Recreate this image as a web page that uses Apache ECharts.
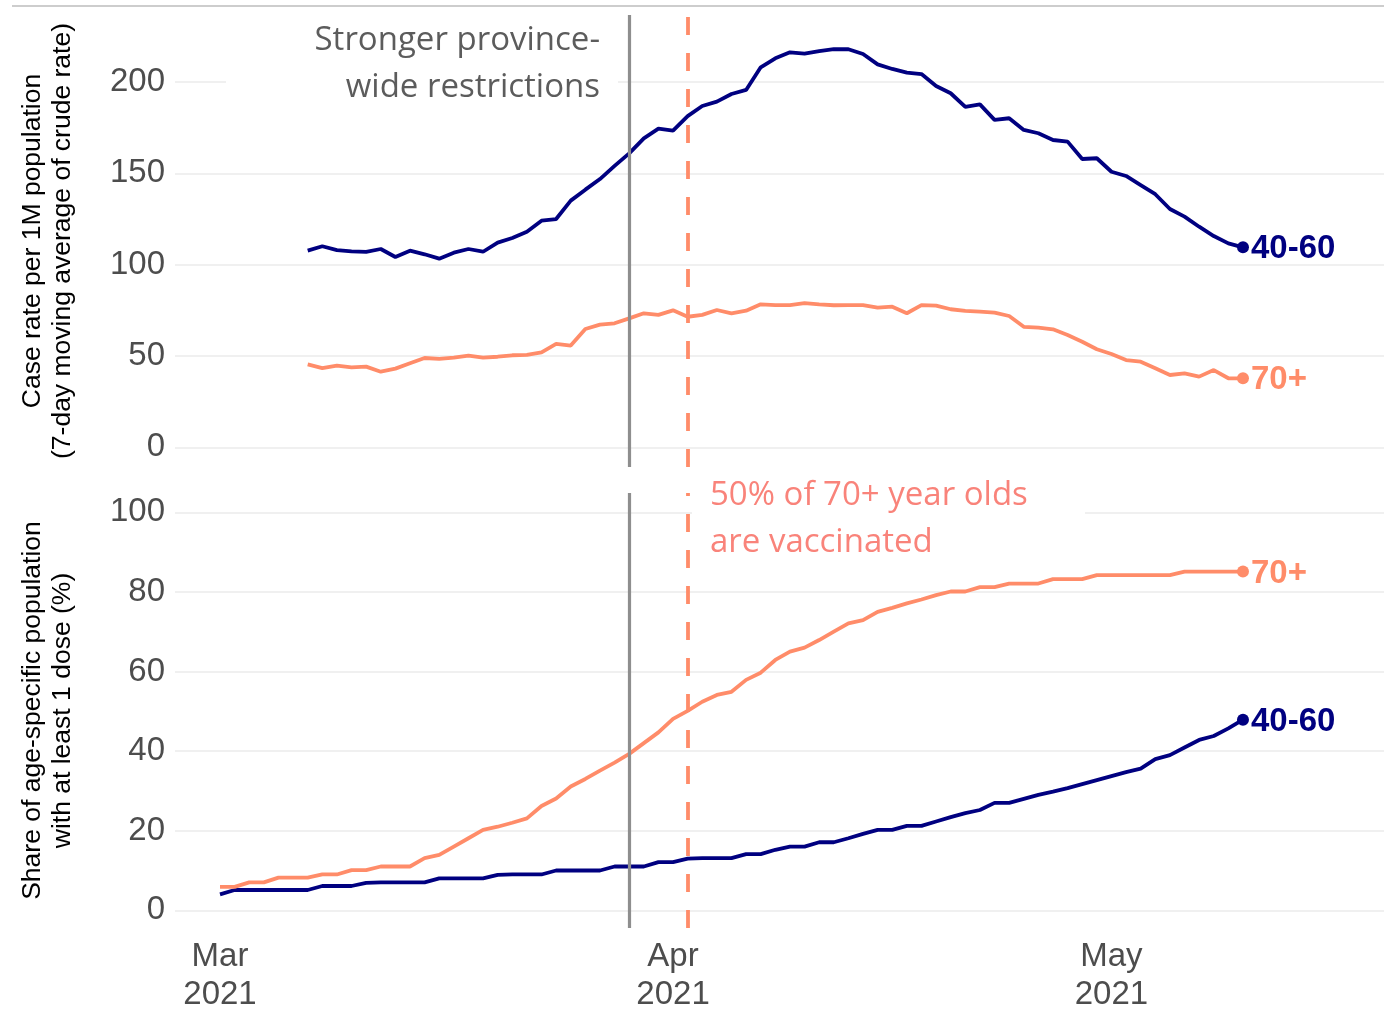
<!DOCTYPE html>
<html><head><meta charset="utf-8">
<script src="https://cdn.jsdelivr.net/npm/echarts@6/dist/echarts.min.js"></script>
<style>html,body{margin:0;padding:0;background:#fff}#c{width:1384px;height:1009px}</style>
</head><body><div id="c"></div>
<script>
// ---------- data ----------
const seriesNames = ['40-60', '70+'];
const caseStart = '2021-03-07';
const case4060 = [107.7,110.1,108.0,107.3,107.0,108.6,104.2,107.7,105.7,103.3,
  106.6,108.6,107.1,112.1,114.6,118.1,124.1,125.0,135.1,141.1,
  146.9,154.1,161.0,169.2,174.5,173.4,181.4,186.9,189.3,193.5,
  195.7,208.1,213.0,216.3,215.6,217.0,218.1,218.0,215.4,209.7,
  207.2,205.2,204.4,197.9,193.9,186.4,187.8,179.3,180.2,173.8,
  172.0,168.3,167.4,157.9,158.3,150.9,148.6,143.6,138.6,130.5,
  126.3,120.8,115.7,111.7,109.5];
const case70 = [45.4,43.4,44.7,43.8,44.2,41.4,43.1,46.0,48.9,48.4,
  49.1,50.2,49.1,49.6,50.4,50.6,52.0,56.6,55.7,64.8,
  67.2,67.9,70.6,73.4,72.5,75.0,71.5,72.5,75.2,73.4,
  74.8,78.3,77.9,77.9,78.9,78.3,77.8,77.9,77.9,76.5,
  77.0,73.4,77.9,77.6,75.6,74.7,74.3,73.7,71.9,66.0,
  65.5,64.6,61.5,57.8,53.7,51.1,47.8,46.9,43.3,39.6,
  40.5,38.7,42.3,37.8,37.8];
const vaxStart = '2021-03-01';
const vax4060 = [4.0,5.1,5.1,5.1,5.1,5.1,5.1,6.1,6.1,6.1,
  6.9,7.0,7.0,7.0,7.0,8.0,8.0,8.0,8.0,8.9,
  9.0,9.0,9.0,10.0,10.0,10.0,10.0,11.0,11.0,11.0,
  12.1,12.1,13.0,13.1,13.1,13.1,14.1,14.1,15.2,16.0,
  16.0,17.1,17.1,18.1,19.2,20.2,20.2,21.2,21.2,22.3,
  23.4,24.4,25.2,27.0,27.0,28.0,29.0,29.8,30.7,31.7,
  32.7,33.7,34.7,35.6,38.0,39.0,40.9,42.8,43.8,45.7,
  47.9];
const vax70 = [5.9,5.9,7.0,7.0,8.2,8.2,8.2,9.0,9.0,10.1,
  10.1,11.0,11.0,11.0,13.1,13.9,16.0,18.1,20.2,21.0,
  22.0,23.1,26.2,28.1,31.1,33.0,35.1,37.1,39.3,42.0,
  44.7,48.1,50.1,52.4,54.1,54.9,57.9,59.7,62.9,65.0,
  66.0,67.9,70.0,72.1,72.9,75.0,76.0,77.1,78.1,79.2,
  80.1,80.1,81.2,81.2,82.1,82.1,82.1,83.2,83.2,83.2,
  84.2,84.2,84.2,84.2,84.2,84.2,85.1,85.1,85.1,85.1,
  85.1];
const xTickDates = ['2021-03-01', '2021-04-01', '2021-05-01'];
const xTickLabels = ['Mar\n2021', 'Apr\n2021', 'May\n2021'];
const caseTicks = [0, 50, 100, 150, 200];
const vaxTicks = [0, 20, 40, 60, 80, 100];
const eventDates = ['2021-03-29', '2021-04-02'];
const annotations = ['Stronger province-\nwide restrictions', '50% of 70+ year olds\nare vaccinated'];
const yTitles = ['Case rate per 1M population\n(7-day moving average of crude rate)',
                 'Share of age-specific population\nwith at least 1 dose (%)'];

// ---------- helpers ----------
const DAY = 86400000;
const BASE = Date.UTC(2021, 2, 1);
function dayOf(s) { const p = s.split('-').map(Number); return (Date.UTC(p[0], p[1] - 1, p[2]) - BASE) / DAY; }
const NAVY = '#000080', SALMON = '#FF8C69', GRAYV = '#8e8e8e';
const LBL = 'Liberation Sans, Arial, sans-serif';

function buildData(values, start, name, color) {
  const s = dayOf(start);
  return values.map((v, i) => {
    if (i < values.length - 1) return [s + i, v];
    return { value: [s + i, v], symbol: 'circle', symbolSize: 12,
      label: { show: true, position: 'right', distance: 2, offset: [0, 2], formatter: name,
        color: color, fontSize: 33, fontWeight: 'bold', fontFamily: LBL } };
  });
}
function lineSeries(values, start, name, color, xi, withMarks) {
  const s = {
    type: 'line', name: name, xAxisIndex: xi, yAxisIndex: xi,
    data: buildData(values, start, name, color),
    showSymbol: true, symbol: 'none',
    lineStyle: { color: color, width: 3.8 }, itemStyle: { color: color },
    z: 3, silent: true
  };
  if (withMarks) {
    s.markLine = {
      silent: true, symbol: 'none', z: 5, label: { show: false },
      data: [
        { xAxis: dayOf(eventDates[0]), lineStyle: { color: GRAYV, width: 3.2, type: 'solid' } },
        { xAxis: dayOf(eventDates[1]), lineStyle: { color: SALMON, width: 3.8, type: [18, 18] } }
      ]
    };
  }
  return s;
}

const xMin = -3.08, xMax = 79.65;
const tickDays = xTickDates.map(dayOf);

function xAxis(gi, showLabels) {
  return {
    type: 'value', gridIndex: gi, min: xMin, max: xMax,
    axisLine: { show: false }, axisTick: { show: false, customValues: tickDays },
    splitLine: { show: false },
    axisLabel: {
      show: showLabels, customValues: tickDays, margin: 10,
      color: '#4d4d4d', fontSize: 33, lineHeight: 38, fontFamily: LBL,
      formatter: (v) => { const k = tickDays.indexOf(Math.round(v)); return k >= 0 ? xTickLabels[k] : ''; }
    }
  };
}
function yAxis(gi, min, max, ticks, title) {
  return {
    type: 'value', gridIndex: gi, min: min, max: max,
    axisLine: { show: false },
    axisTick: { show: false, customValues: ticks },
    splitLine: { show: true, lineStyle: { color: '#ebebeb', width: 1.5 } },
    axisLabel: { customValues: ticks, color: '#4d4d4d', fontSize: 33, fontFamily: LBL, margin: 10 },
    name: title, nameLocation: 'middle', nameRotate: 90, nameGap: 97,
    nameTextStyle: { color: '#000', fontSize: 26.5, lineHeight: 30, fontFamily: LBL, align: 'center' }
  };
}

const chart = echarts.init(document.getElementById('c'), null, { renderer: 'canvas' });
chart.setOption({
  animation: false,
  backgroundColor: '#fff',
  grid: [
    { left: 175, right: 0, top: 15, height: 452, outerBoundsMode: 'none', containLabel: false },
    { left: 175, right: 0, top: 493, height: 435, outerBoundsMode: 'none', containLabel: false }
  ],
  xAxis: [xAxis(0, false), xAxis(1, true)],
  yAxis: [
    yAxis(0, -10.79, 236.75, caseTicks, yTitles[0]),
    yAxis(1, -4.45, 104.85, vaxTicks, yTitles[1])
  ],
  series: [
    lineSeries(case70, caseStart, seriesNames[1], SALMON, 0, false),
    lineSeries(case4060, caseStart, seriesNames[0], NAVY, 0, true),
    lineSeries(vax4060, vaxStart, seriesNames[0], NAVY, 1, false),
    lineSeries(vax70, vaxStart, seriesNames[1], SALMON, 1, true)
  ],
  graphic: [
    { type: 'line', z: 10, shape: { x1: 12, y1: 6, x2: 1384, y2: 6 }, style: { stroke: '#bdbdbd', lineWidth: 1.5 } },
    { type: 'rect', z: 1, shape: { x: 226, y: 15, width: 392, height: 97 }, style: { fill: '#fff' } },
    { type: 'rect', z: 1, shape: { x: 692, y: 470, width: 393, height: 96 }, style: { fill: '#fff' } },
    { type: 'text', z: 2, style: { text: annotations[0], x: 600, y: 17, align: 'right', verticalAlign: 'top',
        font: '33px "Open Sans", Lato, sans-serif', lineHeight: 47, fill: '#5c5c5c' } },
    { type: 'text', z: 2, style: { text: annotations[1], x: 710, y: 472, align: 'left', verticalAlign: 'top',
        font: '33px "Open Sans", Lato, sans-serif', lineHeight: 47, fill: '#F9837A' } }
  ]
});
</script></body></html>
